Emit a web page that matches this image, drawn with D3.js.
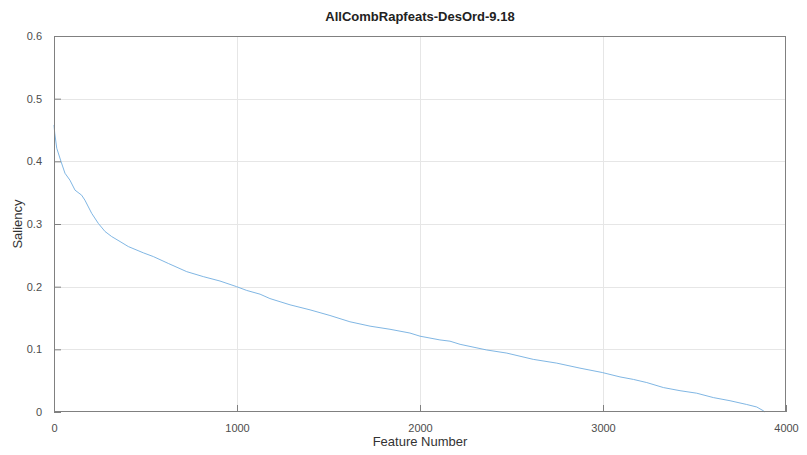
<!DOCTYPE html>
<html><head><meta charset="utf-8">
<script src="https://cdn.jsdelivr.net/npm/d3@7"></script>
<style>body{margin:0;background:#fff}svg{display:block}text{font-family:"Liberation Sans",Arial,sans-serif}</style>
</head><body>
<script>
const featureIdx = [0,4,15,38,60,87,115,151,169,206,242,279,315,361,406,488,543,625,725,816,907,998,1053,1126,1180,1290,1399,1508,1617,1727,1836,1945,2000,2109,2164,2219,2364,2474,2619,2747,2874,2996,3093,3166,3239,3330,3421,3512,3603,3694,3785,3840,3876,3885];
const saliency = [0.458,0.445,0.421,0.400,0.381,0.370,0.354,0.346,0.338,0.317,0.301,0.288,0.280,0.272,0.264,0.254,0.248,0.237,0.224,0.216,0.209,0.200,0.194,0.188,0.181,0.171,0.163,0.154,0.144,0.137,0.132,0.126,0.121,0.115,0.113,0.108,0.099,0.094,0.084,0.078,0.070,0.063,0.056,0.052,0.047,0.039,0.034,0.030,0.023,0.018,0.012,0.008,0.002,0.0];
const xTicks = [0,1000,2000,3000,4000];
const yTicks = [0,0.1,0.2,0.3,0.4,0.5,0.6];
const title = "AllCombRapfeats-DesOrd-9.18";

const W=807,H=455, L=54, R=786, T=36, B=412;
const svg=d3.select("body").append("svg").attr("width",W).attr("height",H);
const x=d3.scaleLinear().domain([0,4000]).range([L,R]);
const y=d3.scaleLinear().domain([0,0.6]).range([B,T]);

// grid
svg.append("g").selectAll("line").data(xTicks.slice(1,-1)).join("line")
  .attr("x1",d=>x(d)+0.5).attr("x2",d=>x(d)+0.5).attr("y1",T).attr("y2",B)
  .attr("stroke","#e6e6e6").attr("stroke-width",1);
svg.append("g").selectAll("line").data(yTicks.slice(1,-1)).join("line")
  .attr("y1",d=>Math.round(y(d))+0.5).attr("y2",d=>Math.round(y(d))+0.5).attr("x1",L).attr("x2",R)
  .attr("stroke","#e6e6e6").attr("stroke-width",1);

// line
const line=d3.line().x((d,i)=>x(featureIdx[i])).y(d=>y(d));
svg.append("path").datum(saliency).attr("d",line).attr("fill","none")
  .attr("stroke","#72aee0").attr("stroke-width",0.9);

// box
svg.append("rect").attr("x",L+0.5).attr("y",T+0.5).attr("width",R-L-1).attr("height",B-T-1)
  .attr("fill","none").attr("stroke","#808080").attr("stroke-width",1);

// axes
const xa=svg.append("g").attr("transform",`translate(0,${B})`)
  .call(d3.axisBottom(x).tickValues(xTicks).tickSize(-7).tickPadding(12).tickFormat(d3.format("d")));
const ya=svg.append("g").attr("transform",`translate(${L},0)`)
  .call(d3.axisLeft(y).tickValues(yTicks).tickSize(-7).tickPadding(12).tickFormat(d=>d===0?"0":d3.format(".1f")(d)));
[xa,ya].forEach(a=>{a.select(".domain").remove();
  a.selectAll(".tick line").attr("stroke","#808080");
  a.selectAll("text").attr("fill","#4d4d4d").style("font-size","11px").style("font-family","'Liberation Sans',Arial,sans-serif");});

svg.append("text").attr("x",(L+R)/2).attr("y",21).attr("text-anchor","middle")
  .style("font-size","13px").style("font-weight","bold").attr("fill","#222").text(title);
svg.append("text").attr("x",(L+R)/2).attr("y",446).attr("text-anchor","middle")
  .style("font-size","13px").attr("fill","#333").text("Feature Number");
svg.append("text").attr("transform",`translate(22,${(T+B)/2}) rotate(-90)`).attr("text-anchor","middle")
  .style("font-size","13px").attr("fill","#333").text("Saliency");
</script>
</body></html>
